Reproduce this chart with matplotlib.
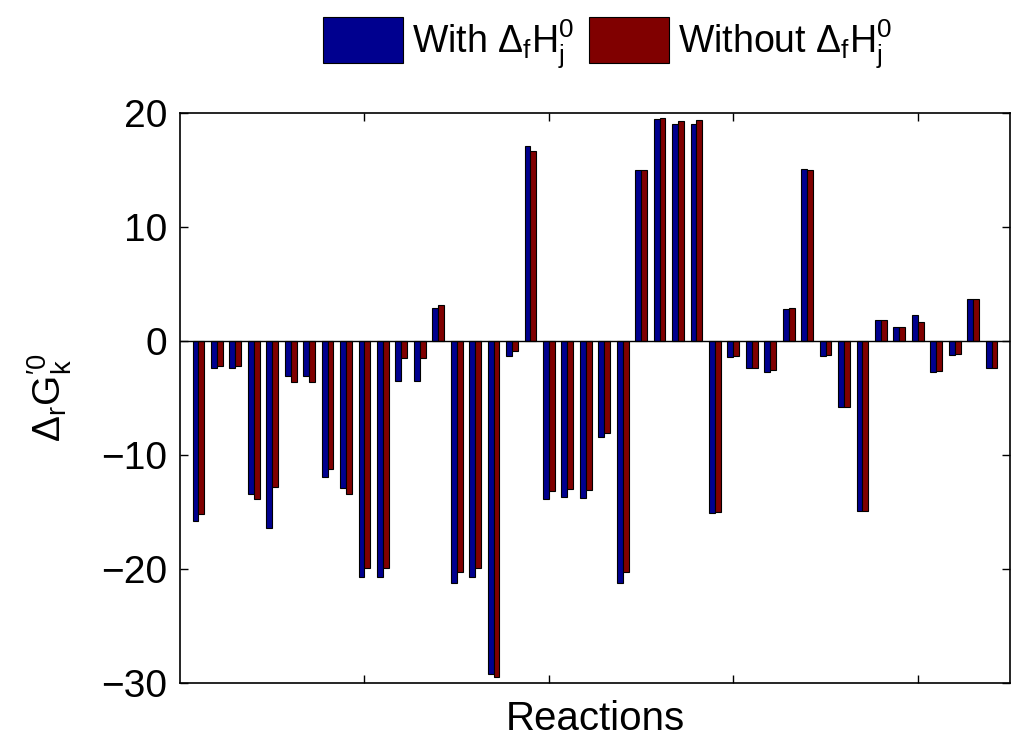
import numpy as np
import matplotlib
matplotlib.use('Agg')
import matplotlib.pyplot as plt

# --- フォント設定 ---
plt.rcParams['font.family'] = ['Liberation Sans', 'DejaVu Sans']
plt.rcParams['mathtext.fontset'] = 'custom'
plt.rcParams['mathtext.rm'] = 'Liberation Sans'
plt.rcParams['mathtext.it'] = 'Liberation Sans'
plt.rcParams['mathtext.default'] = 'regular'
plt.rcParams['axes.unicode_minus'] = True

# --- データ ---
with_dfh = [-15.8, -2.4, -2.4, -13.4, -16.4, -3.1, -3.1, -11.9, -12.9, -20.7,
            -20.7, -3.5, -3.5, 2.9, -21.2, -20.7, -29.2, -1.3, 17.1, -13.9,
            -13.7, -13.8, -8.4, -21.2, 15.0, 19.5, 19.0, 19.0, -15.1, -1.4,
            -2.4, -2.7, 2.8, 15.1, -1.3, -5.8, -14.9, 1.85, 1.2, 2.3,
            -2.7, -1.2, 3.7, -2.4]
without_dfh = [-15.2, -2.2, -2.2, -13.9, -12.8, -3.6, -3.6, -11.2, -13.4, -19.9,
               -19.9, -1.5, -1.5, 3.2, -20.3, -19.9, -29.5, -0.9, 16.7, -13.2,
               -13.0, -13.1, -8.1, -20.3, 15.0, 19.6, 19.3, 19.4, -15.0, -1.3,
               -2.4, -2.5, 2.9, 15.0, -1.25, -5.8, -14.9, 1.85, 1.2, 1.7,
               -2.6, -1.1, 3.7, -2.4]
series_labels = [r'With $\Delta_f H_j^0$', r'Without $\Delta_f H_j^0$']
y_ticks = [-30, -20, -10, 0, 10, 20]
x_ticks = [10, 20, 30, 40]

x = np.arange(1, len(with_dfh) + 1)
bar_w = 0.32

fig = plt.figure(figsize=(10.13, 7.38), dpi=100)
ax = fig.add_axes([180 / 1013, 1 - 683 / 738, 830 / 1013, 570 / 738])

b1 = ax.bar(x - bar_w / 2, with_dfh, bar_w, color='#00008f', edgecolor='black', linewidth=0.8)
b2 = ax.bar(x + bar_w / 2, without_dfh, bar_w, color='#800000', edgecolor='black', linewidth=0.8)
ax.axhline(0, color='black', linewidth=1.0, zorder=3)

ax.set_xlim(0, 45)
ax.set_ylim(-30, 20)
ax.set_yticks(y_ticks)
ax.set_xticks(x_ticks)
ax.set_xticklabels([])
ax.tick_params(direction='in', top=True, right=True, labelsize=28, length=6, width=1, pad=9)
for s in ax.spines.values():
    s.set_linewidth(1.2)

ax.set_xlabel('Reactions', fontsize=29, labelpad=3)
ax.set_ylabel(r"$\Delta_r G_k^{\prime 0}$", fontsize=28, labelpad=20)

fig.legend([b1, b2], series_labels, loc='center left', bbox_to_anchor=(323 / 1013, 1 - 43.5 / 738),
           ncol=2, frameon=False, fontsize=27, handlelength=2.13, handleheight=1.52,
           handletextpad=0.24, columnspacing=0.4, borderpad=0, borderaxespad=0)

fig.savefig('out.png', dpi=100)
